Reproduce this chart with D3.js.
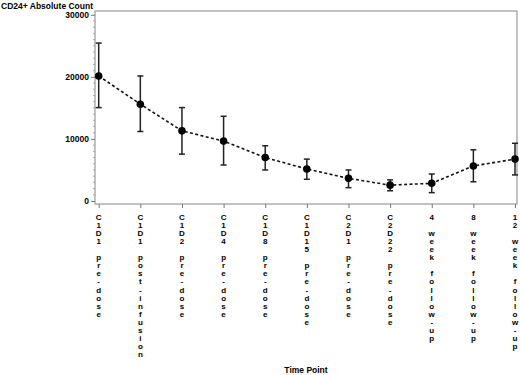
<!DOCTYPE html>
<html>
<head>
<meta charset="utf-8">
<script src="https://cdn.jsdelivr.net/npm/d3@7"></script>
<style>
  body { margin: 0; background: #fff; }
  text { font-family: "Liberation Sans", Arial, sans-serif; font-weight: bold; fill: #000; }
</style>
</head>
<body>
<svg id="chart" width="520" height="375"></svg>
<script>
// data
var timePoints = ["C1D1 pre-dose", "C1D1 post-infusion", "C1D2 pre-dose", "C1D4 pre-dose",
    "C1D8 pre-dose", "C1D15 pre-dose", "C2D1 pre-dose", "C2D22 pre-dose",
    "4 week follow-up", "8 week follow-up", "12 week follow-up"];
var meanCount = [20150, 15600, 11300, 9650, 7000, 5150, 3650, 2550, 2850, 5650, 6750];
var upperCount = [25450, 20150, 15050, 13650, 8900, 6750, 5000, 3400, 4350, 8250, 9300];
var lowerCount = [15050, 11200, 7550, 5800, 5000, 3500, 2150, 1650, 1350, 3100, 4200];
var yTicks = [0, 10000, 20000, 30000];

var svg = d3.select("#chart");
var padL = 95, padR = 517, padT = 11, padB = 204;

var x = d3.scalePoint()
    .domain(timePoints)
    .range([98.7, 515]);

var y = d3.scaleLinear()
    .domain([0, 30000])
    .range([201, 14.8]);

var rows = timePoints.map((d, i) => ({k: d, v: meanCount[i], hi: upperCount[i], lo: lowerCount[i]}));

// frame
svg.append("rect")
    .attr("x", padL).attr("y", padT)
    .attr("width", padR - padL).attr("height", padB - padT)
    .attr("fill", "none")
    .attr("stroke", "#9a9a9a")
    .attr("stroke-width", 1.2);

// y axis
var yAxis = svg.append("g")
    .attr("transform", "translate(" + padL + ",0)")
    .call(d3.axisLeft(y).tickValues(yTicks).tickSize(4).tickPadding(2).tickFormat(d3.format("d")));
yAxis.select(".domain").remove();
yAxis.selectAll("line").attr("stroke", "#777");
yAxis.selectAll("text").style("font-size", "8.5px").attr("fill", "#000");

// minor ticks
svg.append("g").selectAll("line")
    .data(d3.range(1000, 30000, 1000).filter(d => d % 10000 != 0))
    .enter().append("line")
    .attr("x1", padL - 2).attr("x2", padL)
    .attr("y1", d => y(d)).attr("y2", d => y(d))
    .attr("stroke", "#999").attr("stroke-width", 0.8);

// x axis ticks
var xAxis = svg.append("g")
    .attr("transform", "translate(0," + padB + ")")
    .call(d3.axisBottom(x).tickSize(4).tickFormat(""));
xAxis.select(".domain").remove();
xAxis.selectAll("line").attr("stroke", "#777");

// stacked vertical tick labels, one character per line
var lab = svg.append("g").selectAll("text")
    .data(timePoints)
    .enter().append("text")
    .attr("text-anchor", "middle")
    .style("font-size", "8px");
lab.each(function (d) {
    var t = d3.select(this);
    d.split("").forEach((ch, i) => {
        t.append("tspan")
            .attr("x", x(d))
            .attr("y", 219.6 + i * 8.1)
            .text(ch === " " ? "\u00a0" : ch);
    });
});

// dashed mean line
svg.append("path")
    .datum(rows)
    .attr("fill", "none")
    .attr("stroke", "#111")
    .attr("stroke-width", 1.6)
    .attr("stroke-dasharray", "3,2.4")
    .attr("d", d3.line().x(d => x(d.k)).y(d => y(d.v)));

// error bars
var bars = svg.append("g").selectAll("g")
    .data(rows)
    .enter().append("g")
    .attr("stroke", "#222")
    .attr("stroke-width", 1.5);
bars.append("line")
    .attr("x1", d => x(d.k)).attr("x2", d => x(d.k))
    .attr("y1", d => y(d.hi)).attr("y2", d => y(d.lo));
bars.append("line")
    .attr("x1", d => x(d.k) - 3).attr("x2", d => x(d.k) + 3)
    .attr("y1", d => y(d.hi)).attr("y2", d => y(d.hi));
bars.append("line")
    .attr("x1", d => x(d.k) - 3).attr("x2", d => x(d.k) + 3)
    .attr("y1", d => y(d.lo)).attr("y2", d => y(d.lo));

// markers
svg.append("g").selectAll("circle")
    .data(rows)
    .enter().append("circle")
    .attr("cx", d => x(d.k))
    .attr("cy", d => y(d.v))
    .attr("r", 3.8)
    .attr("fill", "#000");

// titles
svg.append("text")
    .attr("x", 1).attr("y", 8.5)
    .style("font-size", "8.5px")
    .text("CD24+ Absolute Count");

svg.append("text")
    .attr("x", 306).attr("y", 373)
    .attr("text-anchor", "middle")
    .style("font-size", "8.5px")
    .text("Time Point");
</script>
</body>
</html>
